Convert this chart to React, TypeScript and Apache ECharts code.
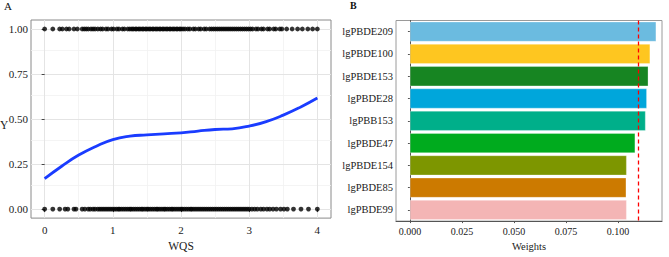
import React, { useEffect, useRef } from "react";
import * as echarts from "echarts";

// ---- Panel A data ----
const wqsTicks = [0, 1, 2, 3, 4];
const wqsMinor = [0.5, 1.5, 2.5, 3.5];
const yTicks = [0, 0.25, 0.5, 0.75, 1];
const yMinor = [0.125, 0.375, 0.625, 0.875];

const topRowX = [0, 0.12, 0.22, 0.26, 0.32, 0.36, 0.43, 0.48, 0.55, 0.58, 0.61, 0.64, 0.68, 0.71, 0.74, 0.78, 0.82, 0.85, 0.9, 0.93, 0.98, 1.01, 1.06, 1.09, 1.14, 1.17, 1.22, 1.25, 1.28, 1.3, 1.33, 1.35, 1.38, 1.4, 1.43, 1.45, 1.48, 1.5, 1.53, 1.55, 1.58, 1.6, 1.63, 1.65, 1.68, 1.7, 1.73, 1.75, 1.78, 1.8, 1.83, 1.85, 1.88, 1.9, 1.93, 1.95, 1.98, 2.0, 2.03, 2.06, 2.1, 2.13, 2.18, 2.21, 2.26, 2.29, 2.34, 2.37, 2.42, 2.45, 2.48, 2.51, 2.54, 2.57, 2.6, 2.63, 2.66, 2.69, 2.72, 2.75, 2.78, 2.81, 2.84, 2.87, 2.9, 2.93, 2.96, 2.99, 3.02, 3.05, 3.1, 3.13, 3.18, 3.21, 3.27, 3.3, 3.36, 3.39, 3.45, 3.48, 3.55, 3.63, 3.71, 3.78, 3.86, 3.93, 4.0];
const bottomRowX = [0, 0.12, 0.22, 0.3, 0.34, 0.43, 0.46, 0.55, 0.59, 0.64, 0.67, 0.71, 0.74, 0.78, 0.81, 0.84, 0.87, 0.9, 0.93, 0.96, 0.99, 1.02, 1.05, 1.08, 1.1, 1.13, 1.16, 1.19, 1.22, 1.25, 1.27, 1.3, 1.33, 1.36, 1.39, 1.42, 1.44, 1.47, 1.5, 1.52, 1.55, 1.58, 1.61, 1.64, 1.66, 1.69, 1.72, 1.75, 1.77, 1.8, 1.83, 1.86, 1.88, 1.91, 1.94, 1.97, 2.0, 2.02, 2.05, 2.08, 2.11, 2.14, 2.16, 2.19, 2.22, 2.25, 2.28, 2.31, 2.34, 2.37, 2.4, 2.43, 2.46, 2.49, 2.52, 2.55, 2.58, 2.61, 2.64, 2.67, 2.7, 2.73, 2.76, 2.79, 2.82, 2.85, 2.88, 2.91, 2.94, 2.97, 3.0, 3.04, 3.08, 3.12, 3.17, 3.21, 3.26, 3.3, 3.35, 3.4, 3.46, 3.51, 3.56, 3.65, 3.76, 3.87, 4.0];

const curveX = [0, 0.25, 0.5, 0.75, 1.0, 1.25, 1.5, 1.75, 2.0, 2.25, 2.5, 2.75, 3.0, 3.25, 3.5, 3.75, 4.0];
const curveY = [0.169, 0.238, 0.3, 0.348, 0.386, 0.405, 0.412, 0.418, 0.423, 0.433, 0.442, 0.446, 0.461, 0.486, 0.522, 0.566, 0.617];

// ---- Panel B data ----
const categories = ["lgPBDE209", "lgPBDE100", "lgPBDE153", "lgPBDE28", "lgPBB153", "lgPBDE47", "lgPBDE154", "lgPBDE85", "lgPBDE99"];
const weights = [0.1184, 0.1155, 0.1146, 0.1139, 0.1133, 0.1083, 0.1042, 0.104, 0.1042];
const barColors = ["#6BBBE0", "#FEC620", "#178522", "#00A6DB", "#00AF8A", "#00AB1E", "#7D9600", "#CC7A00", "#F4B5B5"];
const weightTicks = [0, 0.025, 0.05, 0.075, 0.1];
const threshold = 1 / 9;

const FONT = "'Liberation Serif', 'Times New Roman', serif";
const TEXT = "#1a1a1a";

export default function App() {
  const ref = useRef<HTMLDivElement>(null);

  useEffect(() => {
    if (!ref.current) return;
    const chart = echarts.init(ref.current, null, { renderer: "svg" });

    const majorStyle = { color: "#e4e4e4", width: 1, type: "solid" };
    const minorStyle = { color: "#f1f1f1", width: 0.8, type: "solid" };
    const gridLineData = [
      ...wqsMinor.map((v) => ({ xAxis: v, lineStyle: minorStyle })),
      ...yMinor.map((v) => ({ yAxis: v, lineStyle: minorStyle })),
      ...wqsTicks.map((v) => ({ xAxis: v, lineStyle: majorStyle })),
      ...yTicks.map((v) => ({ yAxis: v, lineStyle: majorStyle })),
    ];

    const option: any = {
      animation: false,
      textStyle: { fontFamily: FONT },
      grid: [
        { left: 31, right: 338, top: 20, bottom: 27, show: true, borderColor: "#8a8a8a", borderWidth: 1, backgroundColor: "transparent" },
        { left: 396, right: 7, top: 20.5, bottom: 27, show: true, borderColor: "#9a9a9a", borderWidth: 1, backgroundColor: "transparent" },
      ],
      xAxis: [
        {
          type: "value",
          gridIndex: 0,
          min: -0.2,
          max: 4.2,
          name: "WQS",
          nameLocation: "middle",
          nameGap: 15,
          nameTextStyle: { fontFamily: FONT, fontSize: 11.5, color: TEXT },
          axisLine: { show: false },
          axisTick: { show: true, length: 3, customValues: wqsTicks, lineStyle: { color: "#444" } },
          axisLabel: { customValues: wqsTicks, margin: 6, fontFamily: FONT, fontSize: 11, color: TEXT },
          splitLine: { show: false },
        },
        {
          type: "value",
          gridIndex: 1,
          min: -0.0067,
          max: 0.1212,
          name: "Weights",
          nameLocation: "middle",
          nameGap: 16,
          nameTextStyle: { fontFamily: FONT, fontSize: 10.5, color: TEXT },
          axisLine: { show: true, onZero: false, lineStyle: { color: "#555" } },
          axisTick: { show: true, length: 2, customValues: weightTicks, lineStyle: { color: "#555" } },
          axisLabel: { customValues: weightTicks, margin: 5, fontFamily: FONT, fontSize: 10, color: TEXT, formatter: (v: number) => v.toFixed(3) },
          splitLine: { show: false },
        },
      ],
      yAxis: [
        {
          type: "value",
          gridIndex: 0,
          min: -0.05,
          max: 1.05,
          axisLine: { show: false },
          axisTick: { show: true, length: 3, customValues: yTicks, lineStyle: { color: "#444" } },
          axisLabel: { customValues: yTicks, margin: 3, fontFamily: FONT, fontSize: 11, color: TEXT, formatter: (v: number) => v.toFixed(2) },
          splitLine: { show: false },
        },
        {
          type: "category",
          gridIndex: 1,
          data: categories,
          inverse: true,
          axisLine: { show: true, lineStyle: { color: "#555" } },
          axisTick: { show: true, length: 2, alignWithLabel: true, lineStyle: { color: "#555" } },
          axisLabel: { margin: 3, fontFamily: FONT, fontSize: 10.5, color: TEXT },
          splitLine: { show: false },
        },
      ],
      graphic: [
        { type: "text", left: 4, top: 0, style: { text: "A", fontFamily: FONT, fontSize: 11, fill: "#111" } },
        { type: "text", left: 350, top: 0, style: { text: "B", fontFamily: FONT, fontSize: 10, fontWeight: "bold", fill: "#111" } },
        { type: "text", left: 0, top: 119, style: { text: "Y", fontFamily: FONT, fontSize: 11.5, fill: TEXT } },
      ],
      series: [
        {
          type: "line",
          xAxisIndex: 0,
          yAxisIndex: 0,
          data: [],
          silent: true,
          z: 0,
          markLine: {
            silent: true,
            z: 0,
            symbol: "none",
            label: { show: false },
            emphasis: { disabled: true },
            data: gridLineData,
          },
        },
        {
          type: "scatter",
          xAxisIndex: 0,
          yAxisIndex: 0,
          symbolSize: 4.8,
          itemStyle: { color: "#000" },
          z: 3,
          data: topRowX.map((x) => [x, 1]),
        },
        {
          type: "scatter",
          xAxisIndex: 0,
          yAxisIndex: 0,
          symbolSize: 4.8,
          itemStyle: { color: "#000" },
          z: 3,
          data: bottomRowX.map((x) => [x, 0]),
        },
        {
          type: "line",
          xAxisIndex: 0,
          yAxisIndex: 0,
          smooth: 0.5,
          showSymbol: false,
          z: 4,
          lineStyle: { color: "#1a3cff", width: 2.8 },
          data: curveX.map((x, i) => [x, curveY[i]]),
        },
        {
          type: "bar",
          xAxisIndex: 1,
          yAxisIndex: 1,
          barCategoryGap: "11%",
          data: weights.map((v, i) => ({ value: v, itemStyle: { color: barColors[i], borderColor: "rgba(255,255,255,0.6)", borderWidth: 0.5 } })),
          markLine: {
            silent: true,
            symbol: "none",
            label: { show: false },
            lineStyle: { color: "#ff0000", type: [4, 3], width: 1.3 },
            data: [{ xAxis: threshold }],
          },
        },
      ],
    };

    chart.setOption(option);
    return () => chart.dispose();
  }, []);

  return <div ref={ref} style={{ position: "fixed", left: 0, top: 0, width: 669, height: 257, background: "#fff" }} />;
}
